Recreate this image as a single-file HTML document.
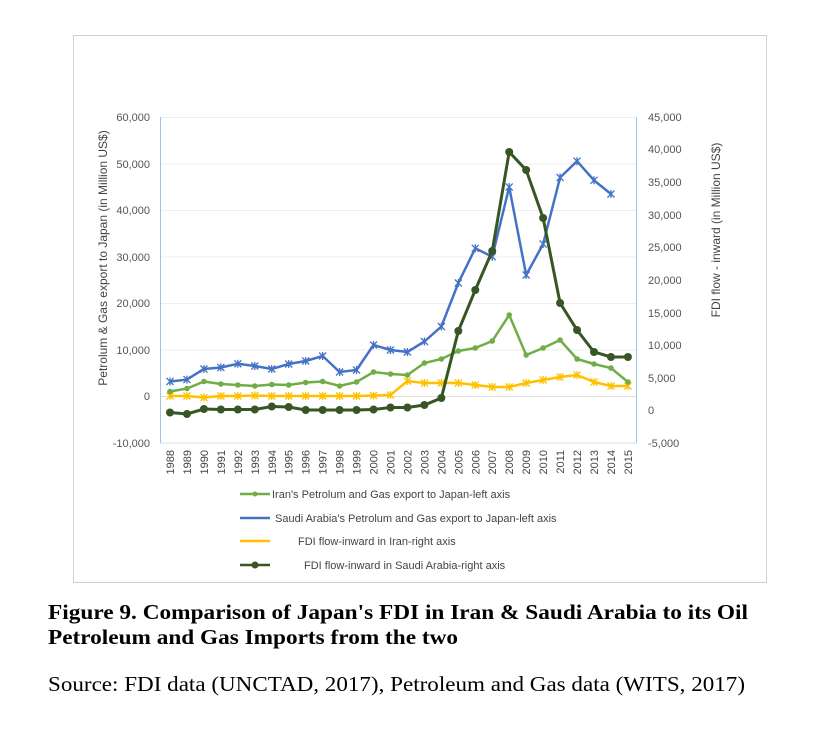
<!DOCTYPE html>
<html><head><style>
body{margin:0;background:#fff;width:818px;height:743px;overflow:hidden;}
</style></head><body>
<svg width="818" height="743" xmlns="http://www.w3.org/2000/svg" font-family="Liberation Sans, sans-serif">
<rect x="73.5" y="35.5" width="693" height="547" fill="#fff" stroke="#d0d0d0"/>
<g stroke="#eeeeee" stroke-width="1">
<line x1="160" x2="637" y1="117.5" y2="117.5"/><line x1="160" x2="637" y1="164" y2="164"/>
<line x1="160" x2="637" y1="210.5" y2="210.5"/><line x1="160" x2="637" y1="257" y2="257"/>
<line x1="160" x2="637" y1="303.5" y2="303.5"/><line x1="160" x2="637" y1="350" y2="350"/>
<line x1="160" x2="637" y1="396.5" y2="396.5" stroke="#dddddd"/><line x1="160" x2="637" y1="443" y2="443" stroke="#dddddd"/>
</g>
<line x1="160.5" x2="160.5" y1="117" y2="443" stroke="#9dc3e6"/>
<line x1="636.5" x2="636.5" y1="117" y2="443" stroke="#9dc3e6"/>
<g font-size="11" fill="#555" text-anchor="end">
<text x="150" y="121">60,000</text><text x="150" y="168">50,000</text><text x="150" y="214">40,000</text>
<text x="150" y="261">30,000</text><text x="150" y="307">20,000</text><text x="150" y="354">10,000</text>
<text x="150" y="400">0</text><text x="150" y="447">-10,000</text>
</g>
<g font-size="11" fill="#555" text-anchor="start">
<text x="648" y="121">45,000</text><text x="648" y="153">40,000</text><text x="648" y="186">35,000</text>
<text x="648" y="219">30,000</text><text x="648" y="251">25,000</text><text x="648" y="284">20,000</text>
<text x="648" y="317">15,000</text><text x="648" y="349">10,000</text><text x="648" y="382">5,000</text>
<text x="648" y="414">0</text><text x="648" y="447">-5,000</text>
</g>
<text transform="translate(107,258) rotate(-90)" font-size="12" fill="#444" text-anchor="middle">Petrolum &amp; Gas export to Japan (in Million US$)</text>
<text transform="translate(720,230) rotate(-90)" font-size="12" fill="#444" text-anchor="middle">FDI flow - inward (in Million US$)</text>
<g id="years" font-size="11" fill="#444" text-anchor="end"></g>
<g id="series"></g>
<g font-size="11" fill="#444">
<line x1="240" x2="270" y1="494" y2="494" stroke="#70ad47" stroke-width="2.5"/><circle cx="255" cy="494" r="2.5" fill="#70ad47"/>
<text x="272" y="498">Iran's Petrolum and Gas export to Japan-left axis</text>
<line x1="240" x2="270" y1="518" y2="518" stroke="#4472c4" stroke-width="2.5"/>
<text x="275" y="522">Saudi Arabia's Petrolum and Gas export to Japan-left axis</text>
<line x1="240" x2="270" y1="541" y2="541" stroke="#ffc000" stroke-width="2.5"/>
<text x="298" y="545">FDI flow-inward in Iran-right axis</text>
<line x1="240" x2="270" y1="565" y2="565" stroke="#375623" stroke-width="2.5"/><circle cx="255" cy="565" r="3.5" fill="#375623"/>
<text x="304" y="569">FDI flow-inward in Saudi Arabia-right axis</text>
</g>
<g font-family="Liberation Serif, serif" fill="#000">
<text x="48" y="619" font-size="21" font-weight="bold" textLength="700" lengthAdjust="spacingAndGlyphs">Figure 9. Comparison of Japan's FDI in Iran &amp; Saudi Arabia to its Oil</text>
<text x="48" y="644" font-size="21" font-weight="bold" textLength="410" lengthAdjust="spacingAndGlyphs">Petroleum and Gas Imports from the two</text>
<text x="48" y="691" font-size="21" textLength="697" lengthAdjust="spacingAndGlyphs">Source: FDI data (UNCTAD, 2017), Petroleum and Gas data (WITS, 2017)</text>
</g>
</svg>
<script>
var ns="http://www.w3.org/2000/svg";
function X(i){return 170+i*16.96;}
var yg=document.getElementById('years');
for(var i=0;i<28;i++){var t=document.createElementNS(ns,'text');t.setAttribute('transform','translate('+(X(i)+4)+',450) rotate(-90)');t.textContent=1988+i;yg.appendChild(t);}
var iran=[391.5,388.5,381.5,384,385,386,384.5,385,382.5,381.5,386,382,372,374,375,363,359,351,348,341,315,355,348,340,359,364,368,382];
var saudi=[381.5,379.6,369,367.5,363.8,366,369,364,361,356,372,370,345,350,352,341.5,326.5,283,248.3,256.7,187,275,244,177.5,161.2,180.3,194];
var fi=[396,396,397.5,396,396,395.5,396,396,396,396,396,396,395.5,395,381,383,383,383,385,387,387,383,380,377,375,382,386,386];
var fs=[412.5,414,409,409.5,409.5,409.5,406.5,407,410,410,410,410,409.5,407.5,407.5,405,398,331,290,251,152,170,218,303,330,352,357,357];
var sg=document.getElementById('series');
function line(d,c,w,mk){var p=d.map(function(y,i){return X(i)+','+y}).join(' ');
var l=document.createElementNS(ns,'polyline');l.setAttribute('points',p);l.setAttribute('fill','none');l.setAttribute('stroke',c);l.setAttribute('stroke-width',w);sg.appendChild(l);
d.forEach(function(y,i){var x=X(i);
if(mk=='dot'||mk=='dia'){var e=document.createElementNS(ns,'circle');e.setAttribute('cx',x);e.setAttribute('cy',y);e.setAttribute('r',mk=='dot'?4:2.8);e.setAttribute('fill',c);sg.appendChild(e);}
else{var e=document.createElementNS(ns,'path');e.setAttribute('d','M'+(x-3.5)+' '+(y-3.5)+'L'+(x+3.5)+' '+(y+3.5)+'M'+(x+3.5)+' '+(y-3.5)+'L'+(x-3.5)+' '+(y+3.5)+'M'+x+' '+(y-4)+'L'+x+' '+(y+4));e.setAttribute('stroke',c);e.setAttribute('stroke-width',1.3);sg.appendChild(e);}
});}
line(fi,'#ffc000',2.5,'star');
line(iran,'#70ad47',2.5,'dia');
line(saudi,'#4472c4',2.5,'star');
line(fs,'#375623',3,'dot');
</script>
</body></html>
